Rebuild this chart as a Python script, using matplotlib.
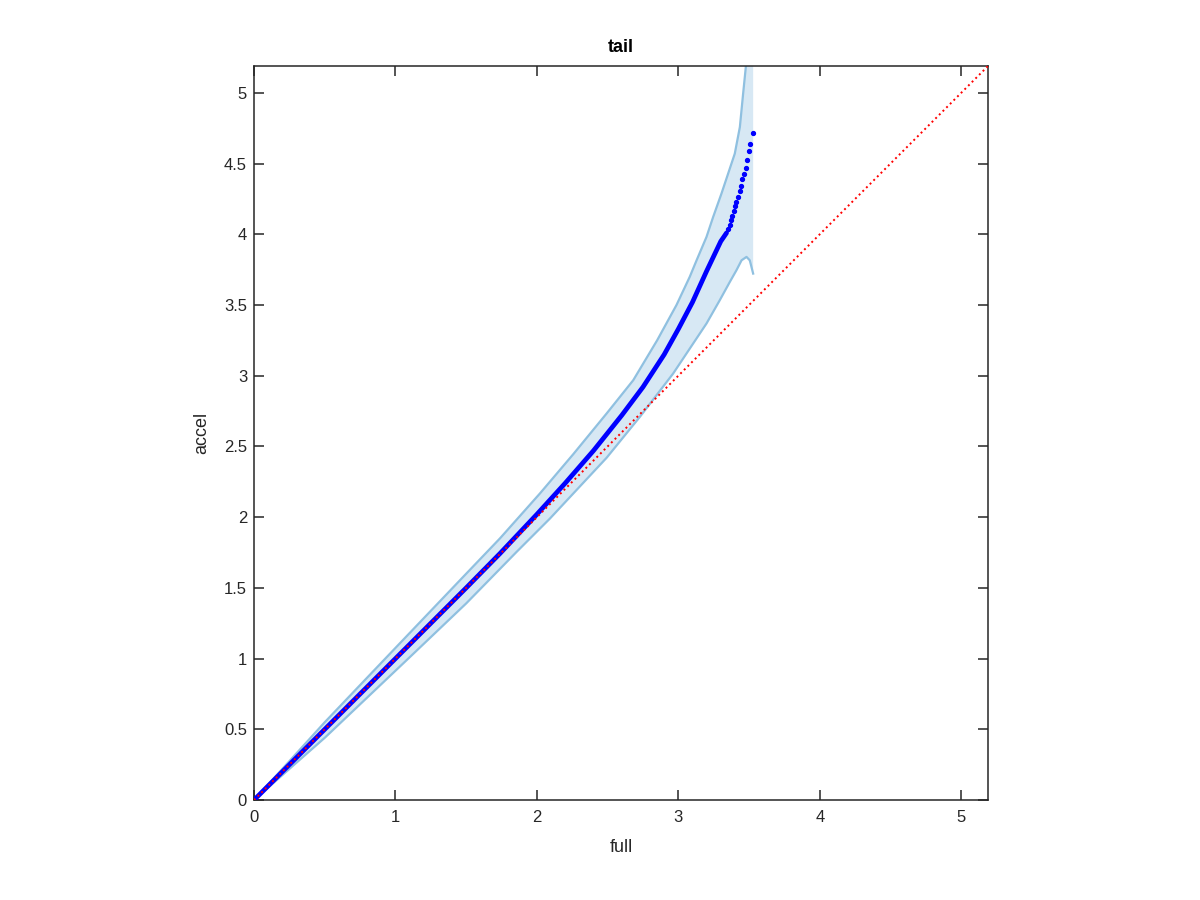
import matplotlib
matplotlib.use("Agg")
import matplotlib.pyplot as plt

# quantile curve (dense part, points overlap into a thick line)
curve_x = [0.0, 0.5, 1.0, 1.5, 1.74, 2.0, 2.2, 2.4, 2.6, 2.75, 2.9, 3.0, 3.1,
           3.2, 3.3, 3.341]
curve_y = [0.0, 0.5, 1.0, 1.5, 1.744, 2.02, 2.24, 2.47, 2.72, 2.92, 3.15, 3.33,
           3.52, 3.74, 3.95, 4.01]

# sparse quantiles in the tail
tail_x = [3.352, 3.362, 3.371, 3.380, 3.392, 3.399, 3.411, 3.423, 3.435,
          3.444, 3.451, 3.461, 3.475, 3.486, 3.498, 3.510, 3.527]
tail_y = [4.040, 4.069, 4.099, 4.129, 4.163, 4.198, 4.228, 4.264, 4.306,
          4.341, 4.394, 4.429, 4.469, 4.523, 4.592, 4.638, 4.714]

# envelope
upper_x = [0.0, 0.5, 1.03, 1.5, 1.739, 2.021, 2.257, 2.493, 2.681, 2.85,
           2.987, 3.081, 3.129, 3.199, 3.246, 3.305, 3.352, 3.399, 3.435,
           3.458, 3.477, 3.529]
upper_y = [0.0, 0.55, 1.107, 1.6, 1.85, 2.167, 2.445, 2.733, 2.968, 3.25,
           3.50, 3.70, 3.816, 3.981, 4.122, 4.288, 4.429, 4.57, 4.758,
           4.994, 5.182, 5.7]
lower_x = [0.0, 0.5, 1.079, 1.5, 1.857, 2.092, 2.493, 2.728, 2.963, 3.199,
           3.293, 3.364, 3.411, 3.447, 3.482, 3.505, 3.529]
lower_y = [0.0, 0.44, 0.989, 1.39, 1.755, 1.99, 2.42, 2.709, 3.015, 3.369,
           3.534, 3.663, 3.746, 3.816, 3.84, 3.816, 3.722]

lim = 5.19

plt.rcParams['font.family'] = ['Liberation Sans', 'DejaVu Sans']

fig = plt.figure(figsize=(12, 9), dpi=100)
ax = fig.add_axes([0.2117, 0.1111, 0.6117, 0.8156])

# shaded envelope
poly_x = upper_x + lower_x[::-1]
poly_y = upper_y + lower_y[::-1]
ax.fill(poly_x, poly_y, color='#d7e8f4', lw=0, zorder=1)
ax.plot(upper_x[:-1], upper_y[:-1], color='#8fc0e0', lw=1.6, zorder=2)
ax.plot(lower_x, lower_y, color='#8fc0e0', lw=1.6, zorder=2)

ax.plot(curve_x, curve_y, color='blue', lw=3.4, solid_capstyle='round', zorder=3)
ax.plot(tail_x, tail_y, 'o', color='blue', ms=2.8, zorder=3)

ax.plot([0, lim], [0, lim], color='red', ls=':', lw=1.4, zorder=4)

ax.set_xlim(0, lim)
ax.set_ylim(0, lim)
ax.set_xticks([0, 1, 2, 3, 4, 5])
ax.set_xticklabels(['0', '1', '2', '3', '4', '5'])
ax.set_yticks([0, 0.5, 1, 1.5, 2, 2.5, 3, 3.5, 4, 4.5, 5])
ax.set_yticklabels(['0', '0.5', '1', '1.5', '2', '2.5', '3', '3.5', '4', '4.5', '5'])
ax.tick_params(direction='in', top=True, right=True, length=7, width=1.1,
               labelsize=12, colors='#262626')
ax.tick_params(axis='x', pad=7)
ax.tick_params(axis='y', pad=5)
for s in ax.spines.values():
    s.set_color('#262626')
    s.set_linewidth(1.1)

ax.set_title('tail', fontsize=13, fontweight='bold', color='black', pad=10)
ax.set_xlabel('full', fontsize=13, color='#262626', labelpad=10)
ax.set_ylabel('accel', fontsize=13, color='#262626', labelpad=10)

fig.savefig('out.png', dpi=100)
